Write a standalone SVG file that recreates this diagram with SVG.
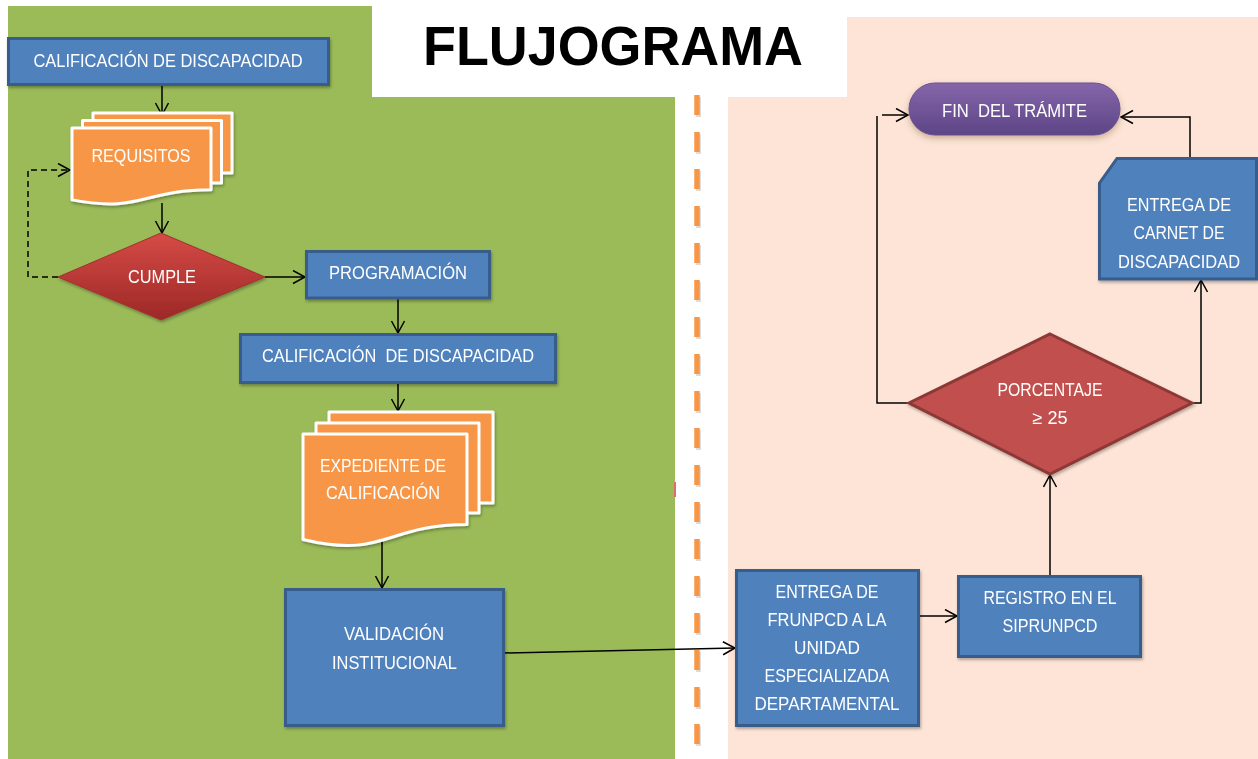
<svg xmlns="http://www.w3.org/2000/svg" width="1258" height="759" viewBox="0 0 1258 759">
  <defs>
    <style>
      .box { fill: #4F81BD; stroke: #385D8A; stroke-width: 3; }
      .doc { fill: #F79646; stroke: #FFFFFF; stroke-width: 3; stroke-linejoin: round; }
      .t { fill: #FFFFFF; font-family: "Liberation Sans", Arial, sans-serif; font-size: 18px; text-anchor: middle; }
      .c { fill: none; stroke: #000000; stroke-width: 1.5; }
      .dash { stroke-dasharray: 6 4; }
    </style>
    <marker id="arr" markerUnits="userSpaceOnUse" markerWidth="15" markerHeight="17" refX="13" refY="7.5" orient="auto">
      <path d="M1,1 L13,7.5 L1,14" fill="none" stroke="#000000" stroke-width="1.5"/>
    </marker>
    <linearGradient id="redg" x1="0" y1="0" x2="0" y2="1">
      <stop offset="0" stop-color="#D64B46"/>
      <stop offset="1" stop-color="#9C2826"/>
    </linearGradient>
    <linearGradient id="purg" x1="0" y1="0" x2="0" y2="1">
      <stop offset="0" stop-color="#8566AA"/>
      <stop offset="1" stop-color="#5D4586"/>
    </linearGradient>
    <filter id="sh" x="-10%" y="-10%" width="130%" height="140%">
      <feDropShadow dx="1" dy="2" stdDeviation="1.5" flood-color="#000000" flood-opacity="0.3"/>
    </filter>
    <filter id="glow" x="-10%" y="-20%" width="120%" height="160%">
      <feDropShadow dx="0" dy="3" stdDeviation="3" flood-color="#6B4A2E" flood-opacity="0.35"/>
    </filter>
  </defs>

  <!-- backgrounds -->
  <rect x="0" y="0" width="1258" height="759" fill="#FFFFFF"/>
  <rect x="8" y="6" width="667" height="753" fill="#9BBB59"/>
  <rect x="728" y="17" width="530" height="742" fill="#FDE4D6"/>
  <rect x="372" y="0" width="475" height="97" fill="#FFFFFF"/>
  <rect x="674" y="482" width="2" height="15" fill="#E56B6B"/>
  <line x1="698.5" y1="97" x2="698.5" y2="761" stroke="#BBBBBB" stroke-width="5" stroke-dasharray="20 17" opacity="0.5"/>
  <line x1="697" y1="95" x2="697" y2="759" stroke="#F79646" stroke-width="5.5" stroke-dasharray="20 17"/>

  <text x="613" y="65" font-family="Liberation Sans, Arial, sans-serif" font-size="56" font-weight="bold" fill="#000000" text-anchor="middle" textLength="380" lengthAdjust="spacingAndGlyphs">FLUJOGRAMA</text>

  <!-- connectors -->
  <g id="connectors">
    <line class="c" x1="162" y1="85" x2="162" y2="115" marker-end="url(#arr)"/>
    <line class="c" x1="162" y1="203" x2="162" y2="233" marker-end="url(#arr)"/>
    <polyline class="c dash" points="58,277 28,277 28,170 70,170" marker-end="url(#arr)"/>
    <line class="c" x1="265" y1="277" x2="305" y2="277" marker-end="url(#arr)"/>
    <line class="c" x1="398" y1="298" x2="398" y2="333" marker-end="url(#arr)"/>
    <line class="c" x1="398" y1="383" x2="398" y2="411" marker-end="url(#arr)"/>
    <line class="c" x1="382" y1="539" x2="382" y2="588" marker-end="url(#arr)"/>
    <line class="c" x1="504" y1="653" x2="735" y2="648" marker-end="url(#arr)"/>
    <line class="c" x1="919" y1="616" x2="957" y2="616" marker-end="url(#arr)"/>
    <line class="c" x1="1050" y1="576" x2="1050" y2="475" marker-end="url(#arr)"/>
    <polyline class="c" points="1192,403 1201,403 1201,280" marker-end="url(#arr)"/>
    <polyline class="c" points="1190,158 1190,117 1121,117" marker-end="url(#arr)"/>
    <polyline class="c" points="909,403 877,403 877,116"/>
    <line class="c" x1="882" y1="115" x2="908" y2="115" marker-end="url(#arr)"/>
  </g>

  <!-- nodes -->
  <g id="n-calificacion1" filter="url(#sh)">
    <rect class="box" x="8.5" y="38.5" width="320" height="46"/>
    <text class="t" x="168" y="67" textLength="269" lengthAdjust="spacingAndGlyphs">CALIFICACIÓN DE DISCAPACIDAD</text>
  </g>

  <g id="n-requisitos" filter="url(#sh)">
    <rect class="doc" x="93" y="113" width="139" height="60"/>
    <rect class="doc" x="82.5" y="120.5" width="139" height="62.5"/>
    <path class="doc" d="M72,128 H211 V189.8 C141.5,189.8 141.5,213.2 72,199.9 Z"/>
    <text class="t" x="141" y="162" textLength="99" lengthAdjust="spacingAndGlyphs">REQUISITOS</text>
  </g>

  <g id="n-cumple" filter="url(#sh)">
    <polygon points="161,233 265,277 161,320 58,277" fill="url(#redg)" stroke="#A0312E" stroke-width="1"/>
    <text class="t" x="162" y="283" textLength="68" lengthAdjust="spacingAndGlyphs">CUMPLE</text>
  </g>

  <g id="n-programacion" filter="url(#sh)">
    <rect class="box" x="306.5" y="251.5" width="183" height="46.5"/>
    <text class="t" x="398" y="279" textLength="138" lengthAdjust="spacingAndGlyphs">PROGRAMACIÓN</text>
  </g>

  <g id="n-calificacion2" filter="url(#sh)">
    <rect class="box" x="240.5" y="334.5" width="315" height="48"/>
    <text class="t" x="398" y="362" textLength="272" lengthAdjust="spacingAndGlyphs">CALIFICACIÓN&#160; DE DISCAPACIDAD</text>
  </g>

  <g id="n-expediente" filter="url(#sh)">
    <rect class="doc" x="329" y="412" width="164" height="91"/>
    <rect class="doc" x="316" y="423" width="163" height="90"/>
    <path class="doc" d="M303,434 H467 V524.6 C385,524.6 385,559.1 303,539.5 Z"/>
    <text class="t" x="383" y="472" textLength="126" lengthAdjust="spacingAndGlyphs">EXPEDIENTE DE</text>
    <text class="t" x="383" y="499" textLength="114" lengthAdjust="spacingAndGlyphs">CALIFICACIÓN</text>
  </g>

  <g id="n-validacion" filter="url(#sh)">
    <rect class="box" x="285.5" y="589.5" width="218" height="136"/>
    <text class="t" x="394" y="640" textLength="100" lengthAdjust="spacingAndGlyphs">VALIDACIÓN</text>
    <text class="t" x="394.5" y="669" textLength="125" lengthAdjust="spacingAndGlyphs">INSTITUCIONAL</text>
  </g>

  <g id="n-entrega-frunpcd" filter="url(#sh)">
    <rect class="box" x="736.5" y="570.5" width="182" height="155"/>
    <text class="t" x="827" y="598" textLength="103" lengthAdjust="spacingAndGlyphs">ENTREGA DE</text>
    <text class="t" x="827" y="626" textLength="119" lengthAdjust="spacingAndGlyphs">FRUNPCD A LA</text>
    <text class="t" x="827" y="654" textLength="66" lengthAdjust="spacingAndGlyphs">UNIDAD</text>
    <text class="t" x="827" y="682" textLength="125" lengthAdjust="spacingAndGlyphs">ESPECIALIZADA</text>
    <text class="t" x="827" y="710" textLength="145" lengthAdjust="spacingAndGlyphs">DEPARTAMENTAL</text>
  </g>

  <g id="n-registro" filter="url(#sh)">
    <rect class="box" x="958.5" y="576.5" width="182" height="80"/>
    <text class="t" x="1050" y="604" textLength="133" lengthAdjust="spacingAndGlyphs">REGISTRO EN EL</text>
    <text class="t" x="1050" y="632" textLength="95" lengthAdjust="spacingAndGlyphs">SIPRUNPCD</text>
  </g>

  <g id="n-porcentaje" filter="url(#sh)">
    <polygon points="1050,334 1192,403 1050,474 909,403" fill="#C0504D" stroke="#8C3836" stroke-width="3" stroke-linejoin="miter"/>
    <text class="t" x="1050" y="396" textLength="105" lengthAdjust="spacingAndGlyphs">PORCENTAJE</text>
    <text class="t" x="1050" y="424" textLength="35" lengthAdjust="spacingAndGlyphs">≥ 25</text>
  </g>

  <g id="n-carnet" filter="url(#sh)">
    <polygon class="box" points="1099.5,183 1117,158.5 1256.5,158.5 1256.5,279 1099.5,279"/>
    <text class="t" x="1179" y="211" textLength="104" lengthAdjust="spacingAndGlyphs">ENTREGA DE</text>
    <text class="t" x="1179" y="239" textLength="91" lengthAdjust="spacingAndGlyphs">CARNET DE</text>
    <text class="t" x="1179" y="268" textLength="122" lengthAdjust="spacingAndGlyphs">DISCAPACIDAD</text>
  </g>

  <g id="n-fin" filter="url(#glow)">
    <rect x="909" y="83" width="211" height="52" rx="26" ry="26" fill="url(#purg)" stroke="#6A5090" stroke-width="1"/>
    <text class="t" x="1014.5" y="117" textLength="145" lengthAdjust="spacingAndGlyphs">FIN&#160; DEL TRÁMITE</text>
  </g>
</svg>
